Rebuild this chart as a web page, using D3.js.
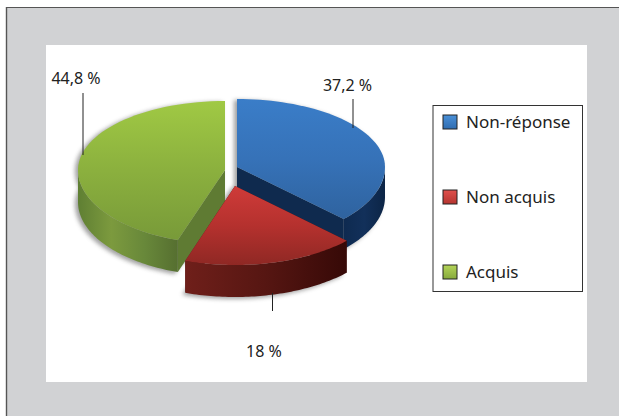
<!DOCTYPE html>
<html><head><meta charset="utf-8">
<script src="https://cdn.jsdelivr.net/npm/d3@7"></script>
<style>html,body{margin:0;padding:0;background:#fff}svg{display:block}
text{font-family:"Noto Sans","Open Sans",sans-serif;fill:#222}</style></head><body>
<svg id="c" width="619" height="416"></svg>
<script>
const categories=["Non-réponse","Non acquis","Acquis"];
const values=[37.2,18,44.8];
const valueLabels=["37,2 %","18 %","44,8 %"];

const svg=d3.select("#c");
const defs=svg.append("defs");
function grad(id,dir,stops){
  const g=defs.append("linearGradient").attr("id",id);
  if(dir==="v")g.attr("x1",0).attr("y1",0).attr("x2",0).attr("y2",1);
  else g.attr("x1",0).attr("y1",0).attr("x2",1).attr("y2",0);
  stops.forEach((c,i)=>g.append("stop").attr("offset",i/(stops.length-1)).attr("stop-color",c));
}
grad("topB","v",["#3a7dc8","#3672b8","#2f639f"]);
grad("topR","v",["#cf3b39","#b5312e","#8f2824"]);
grad("topG","v",["#a0c944","#8bb03e","#789a39"]);
grad("wallB","h",["#0e2a50","#12305a","#0c2546"]);
grad("wallR","h",["#6f1f1a","#561612","#360907"]);
grad("wallG","h",["#5f7f33","#7c9a3e","#68883a","#566f30"]);
grad("swB","v",["#4a90d8","#2f6cb0"]);
grad("swR","v",["#e0504c","#b53530"]);
grad("swG","v",["#b4d458","#86a93c"]);
defs.append("filter").attr("id","blur").attr("x","-20%").attr("y","-20%").attr("width","140%").attr("height","140%")
  .append("feGaussianBlur").attr("stdDeviation",2.2);

// frame
svg.append("rect").attr("x",6).attr("y",8).attr("width",613).attr("height",408).attr("fill","#d1d2d4");
svg.append("line").attr("x1",6).attr("y1",7.5).attr("x2",619).attr("y2",7.5).attr("stroke","#555");
svg.append("line").attr("x1",6.5).attr("y1",7).attr("x2",6.5).attr("y2",416).attr("stroke","#555").attr("stroke-width",1.4);
svg.append("rect").attr("x",46).attr("y",45).attr("width",541).attr("height",337).attr("fill","#fff");

// slice geometry (exploded, with perspective: nearer half is taller)
const geo=[
 {cx:237,cy:167,rx:148,ry:68,ryF:75,d:30,top:"url(#topB)",wall:"url(#wallB)",cut:"#0f2a4e"},
 {cx:235,cy:186,rx:155,ry:79,ryF:79,d:32,top:"url(#topR)",wall:"url(#wallR)",cut:"#4a1210"},
 {cx:225,cy:170,rx:147,ry:69,ryF:74,d:32,top:"url(#topG)",wall:"url(#wallG)",cut:"#5f7b33"}
];
const arcs=d3.pie().sort(null).value(d=>d)(values);
const line=d3.line();
function pt(g,a,dy=0){const c=Math.cos(a);return [g.cx+g.rx*Math.sin(a),g.cy-(c>0?g.ry:g.ryF)*c+dy];}
function samples(a0,a1){const n=60;return d3.range(n+1).map(i=>a0+(a1-a0)*i/n);}
const order=[0,2,1];

const shadow=svg.append("g").attr("filter","url(#blur)").attr("fill","#555").attr("opacity",.55);
order.forEach(i=>{
  const g=geo[i],a=arcs[i];
  const rim=samples(a.startAngle,a.endAngle).map(t=>pt(g,t,g.d));
  const tops=samples(a.startAngle,a.endAngle).map(t=>pt(g,t));
  shadow.append("path").attr("d",line([[g.cx,g.cy],...tops])+"Z").attr("transform","translate(-3,1)");
  shadow.append("path").attr("d",line([[g.cx,g.cy+g.d],...rim])+"Z").attr("transform","translate(-3,2)");
});

order.forEach(i=>{
  const g=geo[i],a=arcs[i],s=svg.append("g");
  [a.startAngle,a.endAngle].forEach(t=>{
    const e=pt(g,t);
    s.append("path").attr("fill",g.cut)
     .attr("d",line([[g.cx,g.cy],e,[e[0],e[1]+g.d],[g.cx,g.cy+g.d]])+"Z");
  });
  const lo=Math.max(a.startAngle,Math.PI/2),hi=Math.min(a.endAngle,Math.PI*1.5);
  const ts=samples(lo,hi);
  s.append("path").attr("fill",g.wall)
   .attr("d",line([...ts.map(t=>pt(g,t)),...ts.slice().reverse().map(t=>pt(g,t,g.d))])+"Z");
  s.append("path").attr("fill",g.top)
   .attr("d",line([[g.cx,g.cy],...samples(a.startAngle,a.endAngle).map(t=>pt(g,t))])+"Z");
});

// leader lines and value labels
const leaders=[
 {x:353,y1:99,y2:128,tx:347.5,ty:91},
 {x:272.5,y1:293,y2:311,tx:264,ty:357},
 {x:83,y1:93,y2:155,tx:76,ty:84}
];
leaders.forEach((l,i)=>{
  svg.append("line").attr("x1",l.x).attr("x2",l.x).attr("y1",l.y1).attr("y2",l.y2).attr("stroke","#222").attr("stroke-width",1);
  svg.append("text").attr("x",l.tx).attr("y",l.ty).attr("text-anchor","middle").attr("font-size",16).text(valueLabels[i]);
});

// legend
svg.append("rect").attr("x",433).attr("y",105.5).attr("width",149.5).attr("height",186).attr("fill","#fff").attr("stroke","#333").attr("stroke-width",1);
const legY=d3.scalePoint().domain(categories).range([122,272]);
const sw=["url(#swB)","url(#swR)","url(#swG)"];
categories.forEach((c,i)=>{
  const y=legY(c);
  svg.append("rect").attr("x",443).attr("y",y-7).attr("width",14).attr("height",14).attr("fill",sw[i]).attr("stroke","#222").attr("stroke-width",1);
  svg.append("text").attr("x",466).attr("y",y+6).attr("font-size",17).text(c);
});
</script></body></html>
